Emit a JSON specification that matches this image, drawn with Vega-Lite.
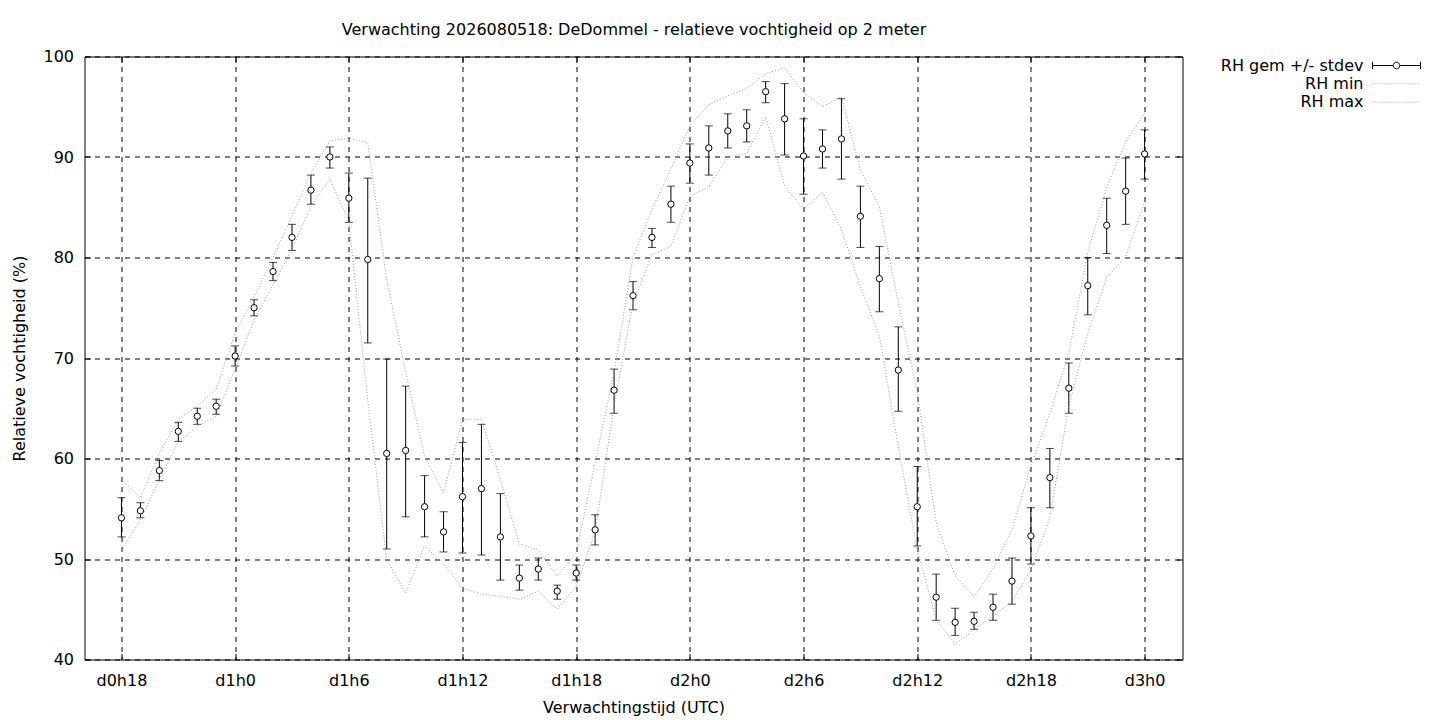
{
  "$schema": "https://vega.github.io/schema/vega-lite/v6.json",
  "width": 1098,
  "height": 603,
  "autosize": {"type": "none"},
  "padding": {"left": 84.5, "top": 56.5, "right": 257.5, "bottom": 60.5},
  "background": "white",
  "data": {
    "values": [
      {"h": 18, "gem": 54.1, "lo": 52.2, "hi": 56.1, "min": 50.8, "max": 57.9},
      {"h": 19, "gem": 54.8, "lo": 54.1, "hi": 55.6, "min": 53.9, "max": 56.1},
      {"h": 20, "gem": 58.8, "lo": 57.8, "hi": 59.8, "min": 57.9, "max": 60.5},
      {"h": 21, "gem": 62.7, "lo": 61.7, "hi": 63.6, "min": 61.6, "max": 63.9},
      {"h": 22, "gem": 64.2, "lo": 63.4, "hi": 65.0, "min": 63.2, "max": 65.2},
      {"h": 23, "gem": 65.2, "lo": 64.4, "hi": 65.9, "min": 64.2, "max": 66.9},
      {"h": 24, "gem": 70.2, "lo": 69.2, "hi": 71.2, "min": 68.9, "max": 72.5},
      {"h": 25, "gem": 75.0, "lo": 74.2, "hi": 75.8, "min": 73.8, "max": 76.1},
      {"h": 26, "gem": 78.6, "lo": 77.7, "hi": 79.5, "min": 77.3, "max": 80.0},
      {"h": 27, "gem": 82.0, "lo": 80.7, "hi": 83.3, "min": 80.8, "max": 84.1},
      {"h": 28, "gem": 86.7, "lo": 85.3, "hi": 88.2, "min": 85.1, "max": 88.4},
      {"h": 29, "gem": 90.0, "lo": 88.9, "hi": 91.0, "min": 87.8, "max": 91.6},
      {"h": 30, "gem": 85.9, "lo": 83.5, "hi": 88.4, "min": 83.6, "max": 91.9},
      {"h": 31, "gem": 79.8, "lo": 71.5, "hi": 87.9, "min": 65.8, "max": 91.4},
      {"h": 32, "gem": 60.5, "lo": 51.0, "hi": 69.9, "min": 49.9, "max": 77.8},
      {"h": 33, "gem": 60.8, "lo": 54.2, "hi": 67.2, "min": 46.6, "max": 68.6},
      {"h": 34, "gem": 55.2, "lo": 52.2, "hi": 58.3, "min": 51.3, "max": 60.2},
      {"h": 35, "gem": 52.7, "lo": 50.7, "hi": 54.7, "min": 49.5, "max": 56.6},
      {"h": 36, "gem": 56.2, "lo": 50.6, "hi": 61.6, "min": 47.1, "max": 63.9},
      {"h": 37, "gem": 57.0, "lo": 50.4, "hi": 63.4, "min": 46.5, "max": 63.9},
      {"h": 38, "gem": 52.2, "lo": 47.9, "hi": 56.5, "min": 46.3, "max": 57.9},
      {"h": 39, "gem": 48.1, "lo": 46.9, "hi": 49.4, "min": 46.0, "max": 51.5},
      {"h": 40, "gem": 49.0, "lo": 47.9, "hi": 50.1, "min": 46.8, "max": 50.9},
      {"h": 41, "gem": 46.8, "lo": 46.0, "hi": 47.4, "min": 45.0, "max": 48.3},
      {"h": 42, "gem": 48.6, "lo": 47.9, "hi": 49.4, "min": 47.3, "max": 50.6},
      {"h": 43, "gem": 52.9, "lo": 51.4, "hi": 54.4, "min": 52.7, "max": 59.6},
      {"h": 44, "gem": 66.8, "lo": 64.5, "hi": 68.9, "min": 65.3, "max": 68.6},
      {"h": 45, "gem": 76.2, "lo": 74.8, "hi": 77.6, "min": 75.5, "max": 80.0},
      {"h": 46, "gem": 82.0, "lo": 81.0, "hi": 82.9, "min": 80.3, "max": 84.8},
      {"h": 47, "gem": 85.3, "lo": 83.5, "hi": 87.1, "min": 81.1, "max": 88.8},
      {"h": 48, "gem": 89.4, "lo": 87.4, "hi": 91.3, "min": 86.1, "max": 93.1},
      {"h": 49, "gem": 90.9, "lo": 88.2, "hi": 93.1, "min": 87.0, "max": 95.2},
      {"h": 50, "gem": 92.6, "lo": 90.9, "hi": 94.3, "min": 90.0, "max": 96.1},
      {"h": 51, "gem": 93.1, "lo": 91.5, "hi": 94.7, "min": 90.4, "max": 96.8},
      {"h": 52, "gem": 96.5, "lo": 95.4, "hi": 97.5, "min": 94.0, "max": 98.3},
      {"h": 53, "gem": 93.8, "lo": 90.2, "hi": 97.3, "min": 87.1, "max": 98.9},
      {"h": 54, "gem": 90.1, "lo": 86.3, "hi": 93.8, "min": 84.8, "max": 96.4},
      {"h": 55, "gem": 90.8, "lo": 88.9, "hi": 92.7, "min": 86.5, "max": 95.0},
      {"h": 56, "gem": 91.8, "lo": 87.8, "hi": 95.8, "min": 82.8, "max": 96.0},
      {"h": 57, "gem": 84.1, "lo": 81.0, "hi": 87.1, "min": 77.1, "max": 88.7},
      {"h": 58, "gem": 77.9, "lo": 74.6, "hi": 81.1, "min": 72.2, "max": 85.0},
      {"h": 59, "gem": 68.8, "lo": 64.7, "hi": 73.1, "min": 61.2, "max": 75.5},
      {"h": 60, "gem": 55.2, "lo": 51.3, "hi": 59.2, "min": 50.9, "max": 66.6},
      {"h": 61, "gem": 46.2, "lo": 43.9, "hi": 48.5, "min": 44.0, "max": 53.6},
      {"h": 62, "gem": 43.7, "lo": 42.4, "hi": 45.1, "min": 41.5, "max": 48.3},
      {"h": 63, "gem": 43.8, "lo": 43.0, "hi": 44.7, "min": 43.0, "max": 46.3},
      {"h": 64, "gem": 45.2, "lo": 43.9, "hi": 46.5, "min": 44.3, "max": 49.0},
      {"h": 65, "gem": 47.8, "lo": 45.5, "hi": 50.1, "min": 45.8, "max": 52.9},
      {"h": 66, "gem": 52.3, "lo": 49.5, "hi": 55.1, "min": 48.9, "max": 59.3},
      {"h": 67, "gem": 58.1, "lo": 55.1, "hi": 61.0, "min": 54.1, "max": 64.5},
      {"h": 68, "gem": 67.0, "lo": 64.5, "hi": 69.5, "min": 65.2, "max": 70.5},
      {"h": 69, "gem": 77.2, "lo": 74.3, "hi": 80.0, "min": 72.5, "max": 80.5},
      {"h": 70, "gem": 83.2, "lo": 80.4, "hi": 85.9, "min": 78.0, "max": 87.0},
      {"h": 71, "gem": 86.6, "lo": 83.3, "hi": 89.9, "min": 80.1, "max": 91.5},
      {"h": 72, "gem": 90.3, "lo": 87.8, "hi": 92.7, "min": 85.5, "max": 94.4}
    ]
  },
  "config": {
    "font": "DejaVu Sans",
    "view": {"stroke": "black", "strokeWidth": 1},
    "axis": {
      "domain": false,
      "minExtent": 0,
      "labelFont": "DejaVu Sans",
      "labelFontSize": 16,
      "labelColor": "black",
      "labelFlush": false,
      "labelOverlap": false,
      "titleFont": "DejaVu Sans",
      "titleFontSize": 16,
      "titleFontWeight": "normal",
      "titleColor": "black",
      "ticks": true,
      "tickColor": "black",
      "tickSize": -6,
      "tickWidth": 1,
      "gridColor": "black",
      "gridDash": [5, 5],
      "gridOpacity": 1,
      "gridWidth": 1
    }
  },
  "resolve": {"axis": {"x": "independent", "y": "independent"}},
  "layer": [
    {
      "mark": {"type": "rule", "strokeWidth": 1},
      "encoding": {
        "x": {
          "field": "h",
          "type": "quantitative",
          "scale": {"domain": [16.05, 74], "nice": false, "zero": false},
          "axis": {
            "orient": "bottom",
            "values": [18, 24, 30, 36, 42, 48, 54, 60, 66, 72],
            "labelExpr": "'d' + floor(datum.value / 24) + 'h' + (datum.value % 24)",
            "grid": true,
            "title": "Verwachtingstijd (UTC)",
            "labelBaseline": "alphabetic",
            "labelPadding": 32,
            "titleBaseline": "alphabetic",
            "titleY": 53
          }
        },
        "y": {
          "field": "lo",
          "type": "quantitative",
          "scale": {"domain": [40, 100], "nice": false, "zero": false},
          "axis": {
            "orient": "left",
            "values": [40, 50, 60, 70, 80, 90, 100],
            "grid": true,
            "title": "Relatieve vochtigheid (%)",
            "labelPadding": 17,
            "titleBaseline": "alphabetic",
            "titleAngle": -90,
            "titleX": -60
          }
        },
        "y2": {"field": "hi"},
        "color": {
          "datum": "RH gem +/- stdev",
          "scale": {
            "domain": ["RH gem +/- stdev", "RH min", "RH max"],
            "range": ["black", "#999999", "#999999"]
          },
          "legend": {
            "orient": "none",
            "legendX": 1304,
            "legendY": 1,
            "title": null,
            "padding": 0,
            "symbolSize": 144,
            "symbolStrokeWidth": 1,
            "labelAlign": "right",
            "labelOffset": -41,
            "labelFont": "DejaVu Sans",
            "labelFontSize": 16,
            "labelColor": "black",
            "labelLimit": 400,
            "rowPadding": 2.3,
            "encode": {
              "symbols": {
                "update": {
                  "shape": {"signal": "datum.value === 'RH gem +/- stdev' ? 'M-4,0H-0.55M0.55,0H4M-4,-0.6V0.6M4,-0.6V0.6M-0.55,0A0.55,0.55,0,1,1,0.55,0A0.55,0.55,0,1,1,-0.55,0Z' : 'M-4,0H4'"},
                  "strokeDash": {"signal": "datum.value === 'RH gem +/- stdev' ? [] : [1, 2]"},
                  "stroke": {"signal": "datum.value === 'RH gem +/- stdev' ? 'black' : '#999999'"},
                  "fill": {"value": "white"},
                  "strokeWidth": {"value": 1},
                  "opacity": {"value": 1}
                }
              }
            }
          }
        }
      }
    },
    {
      "mark": {"type": "tick", "orient": "horizontal", "size": 8, "thickness": 1, "color": "black"},
      "encoding": {
        "x": {"field": "h", "type": "quantitative", "axis": null},
        "y": {"field": "lo", "type": "quantitative", "axis": null}
      }
    },
    {
      "mark": {"type": "tick", "orient": "horizontal", "size": 8, "thickness": 1, "color": "black"},
      "encoding": {
        "x": {"field": "h", "type": "quantitative", "axis": null},
        "y": {"field": "hi", "type": "quantitative", "axis": null}
      }
    },
    {
      "mark": {"type": "line", "strokeDash": [1, 2], "strokeWidth": 1},
      "encoding": {
        "x": {
          "field": "h",
          "type": "quantitative",
          "axis": {
            "orient": "top",
            "values": [18, 24, 30, 36, 42, 48, 54, 60, 66, 72],
            "labels": false,
            "grid": false,
            "title": "Verwachting 2026080518: DeDommel - relatieve vochtigheid op 2 meter",
            "titleBaseline": "alphabetic",
            "titleX": 549,
            "titleY": -22.5,
            "titleAlign": "center"
          }
        },
        "y": {
          "field": "min",
          "type": "quantitative",
          "axis": {
            "orient": "right",
            "values": [40, 50, 60, 70, 80, 90, 100],
            "labels": false,
            "grid": false,
            "title": null
          }
        },
        "color": {"datum": "RH min"}
      }
    },
    {
      "mark": {"type": "line", "strokeDash": [1, 2], "strokeWidth": 1},
      "encoding": {
        "x": {"field": "h", "type": "quantitative", "axis": null},
        "y": {"field": "max", "type": "quantitative", "axis": null},
        "color": {"datum": "RH max"}
      }
    },
    {
      "mark": {"type": "point", "shape": "circle", "filled": true, "fill": "white", "stroke": "black", "strokeWidth": 1, "size": 40, "opacity": 1},
      "encoding": {
        "x": {"field": "h", "type": "quantitative", "axis": null},
        "y": {"field": "gem", "type": "quantitative", "axis": null}
      }
    }
  ]
}
